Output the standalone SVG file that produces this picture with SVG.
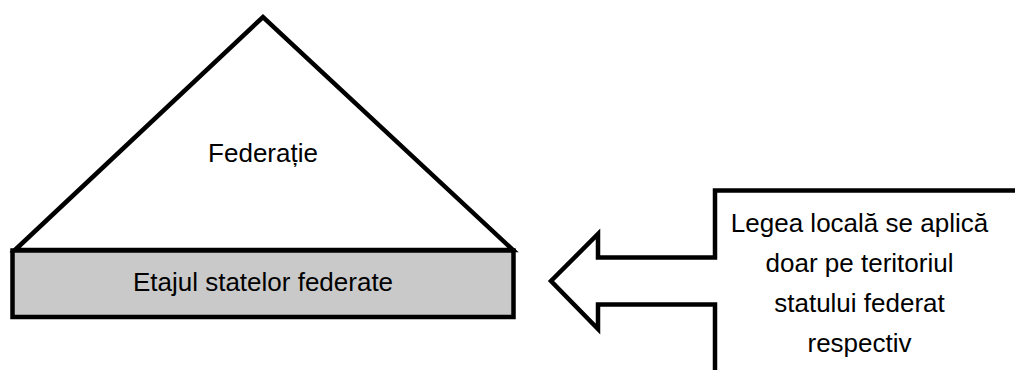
<svg xmlns="http://www.w3.org/2000/svg" width="1015" height="370" viewBox="0 0 1015 370">
<style>
.shape{stroke:#000;stroke-width:4.5;stroke-linejoin:miter;stroke-miterlimit:10}
.lbl{font-family:"Liberation Sans",Arial,sans-serif;font-size:26px;fill:#000;text-anchor:middle}
</style>
<rect x="0" y="0" width="1015" height="370" fill="#fff"/>
<g id="federatie">
<polygon class="shape" points="15,250 263,17 513,250" fill="#fff"/>
<text class="lbl" x="263" y="162">Federație</text>
</g>
<g id="etajul-statelor-federate">
<rect class="shape" x="12.5" y="250.5" width="501" height="66.5" fill="#c9c9c9"/>
<text class="lbl" x="263" y="291">Etajul statelor federate</text>
</g>
<g id="legea-locala">
<path class="shape" fill="#fff" d="M1020,190.5 H715 V257.5 H598 V234 L551,281 L598,329 V304.5 H715 V375"/>
<text class="lbl" x="859.5" y="232">Legea locală se aplică</text>
<text class="lbl" x="859.5" y="272">doar pe teritoriul</text>
<text class="lbl" x="859.5" y="312">statului federat</text>
<text class="lbl" x="859.5" y="352">respectiv</text>
</g>
<g id="connectors"></g>
</svg>
